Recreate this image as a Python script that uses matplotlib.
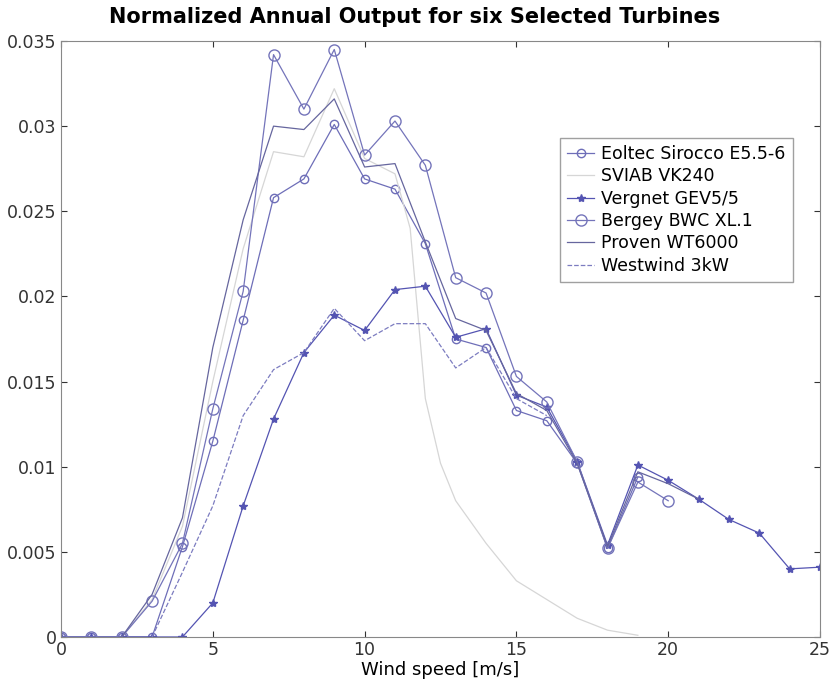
import matplotlib
matplotlib.use("Agg")
from matplotlib import pyplot as plt

plt.rcParams['font.family'] = ['DejaVu Sans']

# Wind speed bins [m/s]
ws_eoltec = [0, 1, 2, 3, 4, 5, 6, 7, 8, 9, 10, 11, 12, 13, 14, 15, 16, 17, 18, 19]
eoltec = [0, 0, 0, 0, 0.0053, 0.0115, 0.0186, 0.0258, 0.0269, 0.0301, 0.0269, 0.0263,
          0.0231, 0.0175, 0.0170, 0.0133, 0.0127, 0.0102, 0.0052, 0.0094]

ws_sviab = [2, 3, 4, 5, 6, 7, 8, 9, 10, 11, 11.5, 12, 12.5, 13, 14, 15, 16, 17, 18, 19]
sviab = [0, 0.0022, 0.0065, 0.0150, 0.0228, 0.0285, 0.0282, 0.0322, 0.0281, 0.0272,
         0.0240, 0.0140, 0.0102, 0.0080, 0.0055, 0.0033, 0.0022, 0.0011, 0.0004, 0.0001]

ws_vergnet = list(range(0, 26))
vergnet = [0, 0, 0, 0, 0, 0.0020, 0.0077, 0.0128, 0.0167, 0.0189, 0.0180, 0.0204, 0.0206,
           0.0176, 0.0181, 0.0142, 0.0135, 0.0103, 0.0054, 0.0101, 0.0092, 0.0081, 0.0069,
           0.0061, 0.0040, 0.0041]

ws_bergey = [0, 1, 2, 3, 4, 5, 6, 7, 8, 9, 10, 11, 12, 13, 14, 15, 16, 17, 18, 19, 20]
bergey = [0, 0, 0, 0.0021, 0.0055, 0.0134, 0.0203, 0.0342, 0.0310, 0.0345, 0.0283, 0.0303,
          0.0277, 0.0211, 0.0202, 0.0153, 0.0138, 0.0103, 0.0052, 0.0091, 0.0080]

ws_proven = [2, 3, 4, 5, 6, 7, 8, 9, 10, 11, 12, 13, 14, 15, 16, 17, 18, 19, 20, 21]
proven = [0, 0.0025, 0.0070, 0.0170, 0.0245, 0.0300, 0.0298, 0.0316, 0.0276, 0.0278,
          0.0232, 0.0187, 0.0180, 0.0143, 0.0133, 0.0102, 0.0053, 0.0097, 0.0090, 0.0081]

ws_westwind = [3, 4, 5, 6, 7, 8, 9, 10, 11, 12, 13, 14, 15, 16]
westwind = [0, 0.0038, 0.0077, 0.0130, 0.0157, 0.0167, 0.0193, 0.0174, 0.0184, 0.0184,
            0.0158, 0.0170, 0.0140, 0.0130]

fig = plt.figure(figsize=(8.3, 6.89), dpi=100)
ax = fig.add_axes([0.0735, 0.0755, 0.9145, 0.865])

ax.plot(ws_eoltec, eoltec, marker='o', markersize=6, markerfacecolor='none',
        color='#6e6eb8', lw=0.9, label='Eoltec Sirocco E5.5-6')
ax.plot(ws_sviab, sviab, color='#d6d6d6', lw=0.9, label='SVIAB VK240')
ax.plot(ws_vergnet, vergnet, marker='*', markersize=6, color='#5454b2', lw=0.9,
        label='Vergnet GEV5/5')
ax.plot(ws_bergey, bergey, marker='o', markersize=8, markerfacecolor='none',
        color='#7474ba', lw=0.9, label='Bergey BWC XL.1')
ax.plot(ws_proven, proven, color='#66669e', lw=0.9, label='Proven WT6000')
ax.plot(ws_westwind, westwind, '--', color='#7c7cc0', lw=0.9, label='Westwind 3kW')

ax.set_xlim(0, 25)
ax.set_ylim(0, 0.035)
ax.set_xticks([0, 5, 10, 15, 20, 25])
ax.set_yticks([0, 0.005, 0.01, 0.015, 0.02, 0.025, 0.03, 0.035])
ax.set_yticklabels(['0', '0.005', '0.01', '0.015', '0.02', '0.025', '0.03', '0.035'])
ax.tick_params(direction='in', top=True, right=True, labelsize=12.5, colors='#333333',
               length=4, pad=3)
for s in ax.spines.values():
    s.set_color('#888888')

ax.set_xlabel('Wind speed [m/s]', fontsize=13, labelpad=1)
fig.suptitle('Normalized Annual Output for six Selected Turbines', fontsize=15,
             fontweight='bold', y=0.99)

ax.legend(loc='upper left', bbox_to_anchor=(0.657, 0.837), fontsize=12.5,
          handlelength=1.6, frameon=True, fancybox=False, edgecolor='#888888',
          borderpad=0.4, labelspacing=0.25, handletextpad=0.4, borderaxespad=0)

fig.savefig('out.png', dpi=100)
